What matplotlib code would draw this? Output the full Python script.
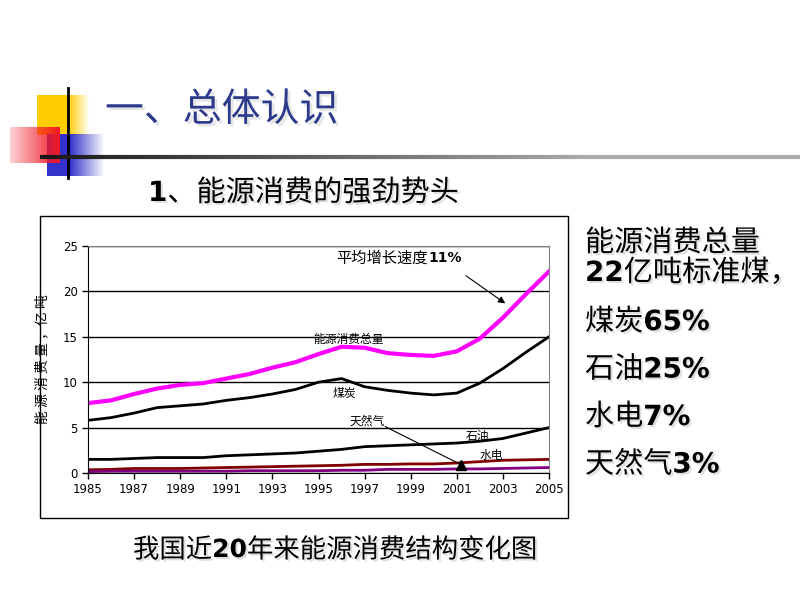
import numpy as np
from matplotlib import pyplot as plt
from matplotlib import patheffects as pe
from matplotlib.patches import Rectangle

plt.rcParams["font.family"] = ["Noto Sans CJK SC", "DejaVu Sans"]

years = np.arange(1985, 2006)
total = [7.7, 8.0, 8.7, 9.3, 9.7, 9.9, 10.4, 10.9, 11.6, 12.2, 13.1,
         13.9, 13.8, 13.2, 13.0, 12.9, 13.4, 14.8, 17.1, 19.7, 22.2]
coal = [5.8, 6.1, 6.6, 7.2, 7.4, 7.6, 8.0, 8.3, 8.7, 9.2, 10.0,
        10.4, 9.5, 9.1, 8.8, 8.6, 8.8, 9.9, 11.5, 13.3, 15.0]
oil = [1.5, 1.5, 1.6, 1.7, 1.7, 1.7, 1.9, 2.0, 2.1, 2.2, 2.4,
       2.6, 2.9, 3.0, 3.1, 3.2, 3.3, 3.5, 3.8, 4.4, 5.0]
hydro = [0.35, 0.4, 0.5, 0.5, 0.5, 0.55, 0.6, 0.65, 0.7, 0.75, 0.8,
         0.85, 0.95, 0.95, 1.0, 1.0, 1.1, 1.25, 1.4, 1.45, 1.5]
gas = [0.15, 0.2, 0.2, 0.2, 0.2, 0.2, 0.2, 0.25, 0.25, 0.25, 0.25,
       0.3, 0.3, 0.4, 0.4, 0.4, 0.45, 0.45, 0.5, 0.55, 0.6]

side_labels = ["煤炭", "石油", "水电", "天然气"]
side_values = ["65%", "25%", "7%", "3%"]

fig = plt.figure(figsize=(8, 6), dpi=100)

# slide layer in pixel coordinates
bg = fig.add_axes([0, 0, 1, 1])
bg.set_xlim(0, 800)
bg.set_ylim(600, 0)
bg.axis("off")


def grad_box(x0, x1, y0, y1, rgb, a_left, a_right, solid_to=None):
    n = 100
    xs = np.linspace(x0, x1, n)
    if solid_to is None:
        alpha = np.linspace(a_left, a_right, n)
    else:
        alpha = np.where(xs < solid_to, a_left,
                         a_left + (a_right - a_left) * (xs - solid_to) / (x1 - solid_to))
    img = np.zeros((1, n, 4))
    img[..., :3] = rgb
    img[..., 3] = alpha
    bg.imshow(img, extent=(x0, x1, y1, y0), aspect="auto", interpolation="bilinear", zorder=1)


grad_box(37, 90, 95, 135, (1.0, 0.8, 0.0), 1.0, 0.0, solid_to=68)
grad_box(47, 105, 134, 176, (0.2, 0.2, 0.8), 1.0, 0.0, solid_to=70)
grad_box(10, 60, 127, 163, (0.95, 0.1, 0.15), 0.2, 1.0)
bg.plot([68, 68], [88, 178], color="black", lw=2, zorder=3)
# fading horizontal rule
n = 200
xs = np.linspace(40, 800, n)
for i in range(n - 1):
    g = min(0.75, 0.1 + 0.9 * i / n)
    bg.plot(xs[i:i + 2], [157, 157], color=(g * 0.9, g * 0.9, g * 0.9), lw=3,
            solid_capstyle="butt", zorder=3)

bg.text(105, 110, "一、总体认识", fontsize=28, color="#2D3A8C", va="center", ha="left",
        path_effects=[pe.withSimplePatchShadow(offset=(2, -2), shadow_rgbFace="gray", alpha=0.2)])

shadow = [pe.withSimplePatchShadow(offset=(1.5, -1.5), shadow_rgbFace="gray", alpha=0.25)]
num = dict(family="DejaVu Sans", weight="bold")
t = bg.text(148, 193, "1", fontsize=20, va="center", ha="left", path_effects=shadow, **num)
bg.annotate("、能源消费的强劲势头", xy=(1, 0.5), xycoords=t, fontsize=21, va="center",
            ha="left", path_effects=shadow)

bg.text(585, 243, "能源消费总量", fontsize=21, va="center", ha="left", path_effects=shadow)
t = bg.text(585, 273, "22", fontsize=20, va="center", ha="left", path_effects=shadow, **num)
bg.annotate("亿吨标准煤，", xy=(1, 0.5), xycoords=t, fontsize=21, va="center", ha="left",
            path_effects=shadow)
for i, (lab, val) in enumerate(zip(side_labels, side_values)):
    t = bg.text(585, 322 + i * 47.5, lab, fontsize=21, va="center", ha="left",
                path_effects=shadow)
    bg.annotate(val, xy=(1, 0.5), xycoords=t, fontsize=20, va="center",
                ha="left", path_effects=shadow, **num)

t = bg.text(133, 550, "我国近", fontsize=19, va="center", ha="left", path_effects=shadow)
t = bg.annotate("20", xy=(1, 0.5), xycoords=t, fontsize=18, va="center",
                ha="left", path_effects=shadow, **num)
bg.annotate("年来能源消费结构变化图", xy=(1, 0.5), xycoords=t, fontsize=19, va="center",
            ha="left", path_effects=shadow)

bg.add_patch(Rectangle((40, 216), 528, 302, fill=False, ec="black", lw=1, zorder=2))

# chart
ax = fig.add_axes([88 / 800, 1 - 473 / 600, 461 / 800, 227 / 600])
ax.plot(years, total, color="#FF00FF", lw=3)
ax.plot(years, coal, color="black", lw=2)
ax.plot(years, oil, color="black", lw=2)
ax.plot(years, hydro, color="#800000", lw=2)
ax.plot(years, gas, color="#800080", lw=2)

ax.set_xlim(1985, 2005)
ax.set_ylim(0, 25)
ax.set_xticks(np.arange(1985, 2006, 2))
ax.set_yticks(np.arange(0, 26, 5))
ax.yaxis.grid(True, color="black", lw=1)
ax.set_axisbelow(True)
ax.tick_params(labelsize=8.5, length=4, width=1, direction="out")
for lab in ax.get_xticklabels() + ax.get_yticklabels():
    lab.set_family("Liberation Sans Narrow")
ax.spines["top"].set_color("#808080")
ax.spines["right"].set_color("#808080")
ax.set_ylabel("能 源 消 费 量 ，亿 吨", fontsize=10, labelpad=10)

ax.text(1999.75, 23.7, "平均增长速度", fontsize=11, ha="right", va="center")
ax.text(1999.75, 23.7, "11%", fontsize=10, ha="left", va="center", **num)
ax.annotate("", xy=(2003.2, 18.5), xytext=(2001.3, 21.9),
            arrowprops=dict(arrowstyle="-|>", color="black", lw=0.8))
ax.text(1996.3, 14.75, "能源消费总量", fontsize=8.5, ha="center", va="center")
ax.text(1996.1, 8.8, "煤炭", fontsize=8.5, ha="center", va="center")
ax.text(1997.1, 5.7, "天然气", fontsize=8.5, ha="center", va="center")
ax.plot([1997.9, 2001.2], [5.1, 0.9], color="black", lw=0.8)
ax.plot([2001.2], [0.9], marker="^", color="black", ms=7)
ax.text(2001.9, 4.0, "石油", fontsize=8.5, ha="center", va="center")
ax.text(2002.5, 1.9, "水电", fontsize=8.5, ha="center", va="center")

fig.savefig("out.png", dpi=100)
